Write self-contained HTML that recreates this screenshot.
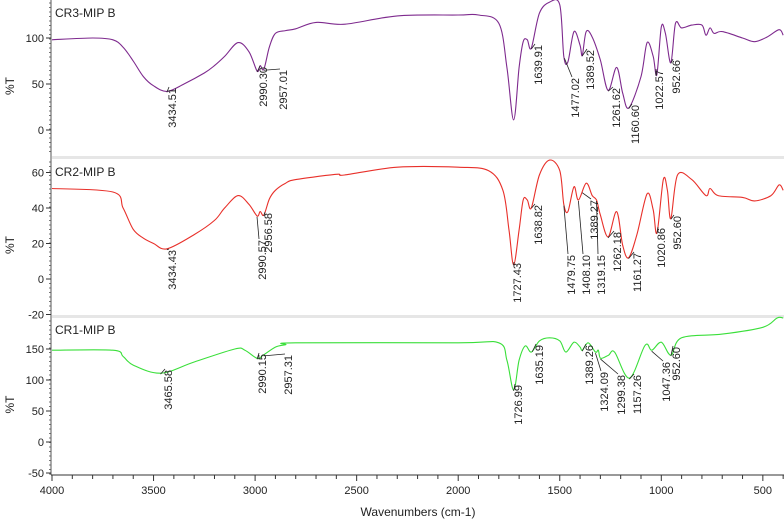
<!DOCTYPE html>
<html><head><meta charset="utf-8"><style>
html,body{margin:0;padding:0;background:#fff;}
svg{display:block;font-family:"Liberation Sans",sans-serif;}
</style></head><body>
<svg id="c" width="784" height="523"></svg>
<script>
// ---- data ----
const cr3Wn=[4000,3800,3700,3650,3600,3550,3500,3434,3350,3250,3200,3150,3084,3030,2990,2975,2957,2930,2900,2850,2800,2700,2557,2300,2000,1900,1800,1760,1727,1700,1680,1660,1640,1600,1550,1500,1480,1460,1430,1400,1389,1370,1340,1300,1262,1220,1190,1160,1100,1070,1040,1022,1000,980,953,930,900,850,800,780,760,740,700,600,540,480,420,400];
const cr3Val=[98,100,98,90,75,58,48,42,50,62,70,80,95,85,64,70,66,90,105,108,110,117,115,124,125,125,116,68,11,68,96,98,89,127,139,136,80,74,107,92,81,107,101,76,43,68,40,24,58,95,80,60,112,105,73,116,111,114,114,103,111,105,107,100,96,101,109,103];
const cr2Wn=[4000,3700,3650,3600,3550,3500,3434,3300,3200,3150,3084,3030,2990,2975,2957,2930,2900,2850,2800,2600,2560,2300,2000,1850,1780,1750,1727,1700,1680,1660,1640,1600,1550,1500,1480,1460,1430,1408,1370,1340,1319,1300,1262,1220,1190,1161,1120,1070,1040,1021,990,970,953,920,850,780,760,720,600,540,460,420,400];
const cr2Val=[51,49,40,28,23,20,17,25,33,40,47,42,35.5,38,36,45,50,54,56,59,58.6,63,63,61,50,27.6,8,27.6,44.5,44.5,40,58.6,67,61,42,38,52,44.5,54,47,44.5,36,23.7,38,19,12,25,48,39,26,56,50,34,58.6,56,47,51,47,46,44,47,53,50];
const cr1Wn=[4000,3700,3650,3600,3465,3300,3100,3050,2990,2960,2900,2850,2800,2000,1800,1760,1727,1700,1670,1640,1600,1550,1500,1470,1430,1400,1389,1360,1324,1310,1299,1260,1230,1157,1080,1047,1000,952,900,700,500,430,400];
const cr1Val=[148,148,138,124,111,129,150,148,135,140,153,157,160,160,160,132,84,132,155,145,163,168,163,145,161,153,148,160,145,148,135,140,145,103,156,148,161,140,168,174,185,200,200];
const xTicks=[4000,3500,3000,2500,2000,1500,1000,500];
const p1Ticks=[100,50,0];
const p2Ticks=[60,40,20,0,-20];
const p3Ticks=[150,100,50,0,-50];
const p1Labels=["3434.51","2990.30","2957.01","1639.91","1477.02","1389.52","1261.62","1160.60","1022.57","952.66"];
const p2Labels=["3434.43","2990.57","2956.58","1727.43","1638.82","1479.75","1408.10","1389.27","1319.15","1262.18","1161.27","1020.86","952.60"];
const p3Labels=["3465.58","2990.15","2957.31","1726.99","1635.19","1389.26","1324.09","1299.38","1157.26","1047.36","952.60"];

// ---- layout ----
const NS="http://www.w3.org/2000/svg";
const svg=document.getElementById('c');
function el(t,a,p){const e=document.createElementNS(NS,t);for(const k in a)e.setAttribute(k,a[k]);(p||svg).appendChild(e);return e;}
const X=w=>52+(4000-w)*0.2031;
const panels=[
 {name:'cr3',top:0,bot:156,y:v=>130-v*0.92,ticks:p1Ticks,wn:cr3Wn,val:cr3Val,color:'#7e2a8e',title:'CR3-MIP B',ty:17,lab:p1Labels,
  pos:[[172,88],[263,67],[283,70],[538,45],[575,78],[590,50],[616,88],[635,105],[659,70],[676,60]]},
 {name:'cr2',top:159,bot:315,y:v=>279-v*1.775,ticks:p2Ticks,wn:cr2Wn,val:cr2Val,color:'#e8302a',title:'CR2-MIP B',ty:176,lab:p2Labels,
  pos:[[172,250],[262,240],[268,213],[517,263],[538,205],[571,255],[586,255],[594,200],[601,255],[617,232],[637,253],[661,228],[677,216]]},
 {name:'cr1',top:318,bot:475,y:v=>442-v*0.62,ticks:p3Ticks,wn:cr1Wn,val:cr1Val,color:'#3adf3a',title:'CR1-MIP B',ty:334,lab:p3Labels,
  pos:[[168,370],[262,354],[288,355],[518,385],[539,345],[589,345],[604,372],[621,375],[637,375],[666,362],[676,347]]}
];
function interp(ws,vs,w){for(let i=0;i<ws.length-1;i++){if(w<=ws[i]&&w>=ws[i+1]){const f=(ws[i]-w)/(ws[i]-ws[i+1]);return vs[i]+f*(vs[i+1]-vs[i]);}}return vs[vs.length-1];}
function smooth(pts){
 let d='M'+pts[0][0].toFixed(1)+','+pts[0][1].toFixed(1);
 for(let i=0;i<pts.length-1;i++){
  const p0=pts[Math.max(i-1,0)],p1=pts[i],p2=pts[i+1],p3=pts[Math.min(i+2,pts.length-1)];
  const c1=[p1[0]+(p2[0]-p0[0])/6,p1[1]+(p2[1]-p0[1])/6];
  const c2=[p2[0]-(p3[0]-p1[0])/6,p2[1]-(p3[1]-p1[1])/6];
  d+='C'+c1.map(v=>v.toFixed(1)).join(',')+' '+c2.map(v=>v.toFixed(1)).join(',')+' '+p2[0].toFixed(1)+','+p2[1].toFixed(1);
 }
 return d;
}
[157,316].forEach(y=>{const r=el('rect',{x:51,y:y-1,width:733,height:3,fill:'#e6e6e6'});

});
const ax=el('line',{x1:51,y1:0,x2:51,y2:475,stroke:'#aaa','stroke-width':2});


panels.forEach(p=>{
 const g=el('g',{});
 
 
 for(let yy=p.top+3;yy<p.bot;yy+=4.5){el('line',{x1:49,y1:yy,x2:51,y2:yy,stroke:'#555','stroke-width':0.8},g);}
 p.ticks.forEach(t=>{
  const yy=p.y(t);
  el('line',{x1:46,y1:yy,x2:51,y2:yy,stroke:'#333'},g);
  const tx=el('text',{x:44,y:yy+4,'text-anchor':'end','font-size':11,fill:'#222'},g);tx.textContent=t;
  
  
 });
 const yl=el('text',{transform:`translate(14,${(p.top+p.bot)/2+8}) rotate(-90)`,'text-anchor':'middle','font-size':12,fill:'#222'},g);yl.textContent='%T';
 
 
 const tt=el('text',{x:55,y:p.ty,'font-size':12,fill:'#222'},g);tt.textContent=p.title;
 
 
 const pts=p.wn.map((w,i)=>[X(w),p.y(p.val[i])]);
 const path=el('path',{d:smooth(pts),fill:'none',stroke:p.color,'stroke-width':1.1,'stroke-linejoin':'round'},g);
 
 
 p.lab.forEach((s,i)=>{
  const [x,y]=p.pos[i];
  const w=parseFloat(s);
  const px=X(w), py=p.y(interp(p.wn,p.val,w));
  el('line',{x1:px,y1:py+1,x2:x-3,y2:y-1,stroke:'#222','stroke-width':0.8},g);
  const t=el('text',{transform:`translate(${x+4},${y}) rotate(-90)`,'text-anchor':'end','font-size':11,fill:'#222'},g);t.textContent=s;
  
  
 });
});
const xa=el('line',{x1:51,y1:475,x2:784,y2:475,stroke:'#333'});


for(let w=4000;w>=400;w-=100){el('line',{x1:X(w),y1:475,x2:X(w),y2:w%500?479:481,stroke:'#333'});}
xTicks.forEach(w=>{const t=el('text',{x:X(w),y:494,'text-anchor':'middle','font-size':11,fill:'#222'});t.textContent=w;
 
 });
const xt=el('text',{x:418,y:516,'text-anchor':'middle','font-size':12,fill:'#222'});xt.textContent='Wavenumbers (cm-1)';


</script>
</body></html>
